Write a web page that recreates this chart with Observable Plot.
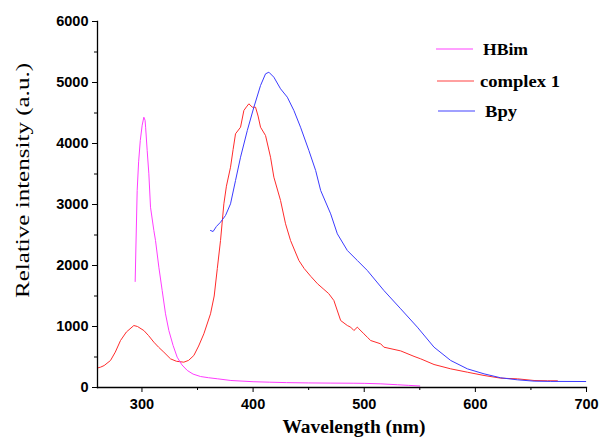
<!DOCTYPE html>
<html>
<head>
<meta charset="utf-8">
<script src="https://cdn.jsdelivr.net/npm/d3@7"></script>
<script src="https://cdn.jsdelivr.net/npm/@observablehq/plot@0.6"></script>
<style>
  body { margin: 0; background: #fff; }
  #wrap { position: relative; width: 603px; height: 443px; }
  #legend { position: absolute; left: 0; top: 0; pointer-events: none; }
</style>
</head>
<body>
<div id="wrap"></div>
<script>
// HBim
const hbimNm = [293.9, 294.8, 295.7, 297, 298.5, 300.2, 301.7, 302.8, 303.3, 304.7, 306.2, 307.7, 310.7, 312.2, 315.2, 318.2, 321.2, 324.2, 328, 331.7, 336, 340.8, 346, 352.7, 360, 367.8, 380, 400, 415, 430, 450, 470, 490, 500, 515, 530, 540, 550];
const hbimVal = [1738, 2500, 3230, 3700, 4050, 4300, 4431, 4380, 4267, 3885, 3503, 2956, 2574, 2410, 1972, 1590, 1208, 934, 690, 497, 370, 279, 220, 180, 160, 143, 115, 95, 87, 80, 75, 72, 70, 68, 60, 45, 35, 25];
// complex 1
const cplxNm = [260, 262.7, 266, 271.7, 276, 280.7, 286, 292.7, 296, 301.7, 306, 310.7, 315, 319.7, 325.7, 331, 337.7, 342, 346.7, 351, 355.7, 361.7, 365, 367.8, 370.7, 373.7, 376, 379.7, 382, 384.2, 388.7, 391.7, 394, 396.2, 399.3, 402.2, 404.5, 406.7, 411.2, 415.7, 418.7, 424.7, 429.2, 433.7, 441.2, 446, 452, 458, 463, 468, 472.7, 478.8, 484.8, 487.8, 490.7, 493.8, 495.2, 499.7, 502.8, 505.8, 514.8, 517.7, 532.8, 544.8, 550.8, 562.8, 577.8, 592.8, 607.8, 622.8, 637.8, 652.8, 665, 673.8];
const cplxVal = [320, 333, 360, 443, 580, 770, 910, 1016, 1000, 934, 850, 743, 660, 579, 470, 430, 415, 445, 525, 680, 880, 1208, 1500, 1950, 2410, 3011, 3300, 3611, 3900, 4159, 4267, 4541, 4600, 4651, 4595, 4595, 4450, 4267, 4131, 3775, 3448, 3066, 2684, 2410, 2082, 1950, 1820, 1700, 1620, 1540, 1426, 1098, 1016, 989, 934, 989, 962, 880, 824, 770, 716, 661, 600, 510, 470, 377, 306, 251, 197, 153, 142, 115, 110, 110];
// Bpy
const bpyNm = [361.7, 364, 367, 370.7, 375.2, 379.7, 384.2, 388.7, 394.8, 400.7, 406.7, 411.2, 414.2, 418.7, 424.7, 430.8, 436.7, 442.7, 450.2, 456.3, 460.8, 469.8, 475.8, 484.8, 493.8, 502.8, 517.7, 532.8, 547.8, 562.8, 577.8, 592.8, 607.8, 622.8, 637.8, 652.8, 667.8, 699.3];
const bpyVal = [2574, 2557, 2640, 2710, 2820, 3011, 3393, 3775, 4213, 4595, 4951, 5142, 5169, 5087, 4897, 4759, 4541, 4267, 3885, 3557, 3230, 2847, 2519, 2246, 2082, 1918, 1590, 1290, 989, 661, 443, 306, 224, 159, 126, 104, 100, 98];

const seriesNames = ["HBim", "complex 1", "Bpy"];
const seriesColors = ["#ff3cff", "#ff2b2b", "#3b3bff"];
const legendColors = ["#ff80ff", "#ff8080", "#8080ff"];

const xMajor = [300, 400, 500, 600, 700];
const xMinor = [350, 450, 550, 650];
const yMajor = [0, 1000, 2000, 3000, 4000, 5000, 6000];
const yMinor = [500, 1500, 2500, 3500, 4500, 5500];

const xLabel = "Wavelength (nm)";
const yLabel = "Relative intensity (a.u.)";

const toRows = (nm, val, s) => nm.map((x, i) => ({x, y: val[i], s}));
const hbim = toRows(hbimNm, hbimVal, seriesNames[0]);
const cplx = toRows(cplxNm, cplxVal, seriesNames[1]);
const bpy = toRows(bpyNm, bpyVal, seriesNames[2]);

const serif = "'Liberation Serif', 'Times New Roman', serif";

const chart = Plot.plot({
  width: 603,
  height: 443,
  marginLeft: 97,
  marginRight: 17,
  marginTop: 21,
  marginBottom: 56,
  x: {domain: [260, 700]},
  y: {domain: [0, 6000]},
  style: {fontFamily: "'Liberation Sans', Arial, sans-serif", fontSize: "14.5px", fontWeight: "bold", color: "#000", background: "#fff"},
  marks: [
    Plot.line(cplx, {x: "x", y: "y", stroke: seriesColors[1], strokeWidth: 1}),
    Plot.line(bpy, {x: "x", y: "y", stroke: seriesColors[2], strokeWidth: 1}),
    Plot.line(hbim, {x: "x", y: "y", stroke: seriesColors[0], strokeWidth: 1}),
    Plot.frame({anchor: "left", stroke: "#000", strokeWidth: 1.3}),
    Plot.frame({anchor: "bottom", stroke: "#000", strokeWidth: 1.3}),
    Plot.axisX(xMajor, {tickSize: 5, tickPadding: 6, label: null, tickFormat: d => String(d)}),
    Plot.axisX(xMinor, {tickSize: 3, tickFormat: () => "", label: null}),
    Plot.axisY(yMajor, {tickSize: 5, tickPadding: 4, label: null, tickFormat: d => String(d)}),
    Plot.axisY(yMinor, {tickSize: 3, tickFormat: () => "", label: null}),
    Plot.text([xLabel], {frameAnchor: "bottom", textAnchor: "middle", dx: 12, dy: 45, fontFamily: serif, fontSize: 18, fontWeight: "bold", fill: "#000", className: "xlab"}),
    Plot.text([yLabel], {frameAnchor: "left", textAnchor: "middle", dx: -75, dy: -24, rotate: -90, fontFamily: serif, fontSize: 19, fontWeight: "normal", fill: "#000", className: "ylab"})
  ]
});

const wrap = document.getElementById("wrap");
wrap.appendChild(chart);

// stretch axis titles to the reference's extent
const stretch = (sel, len) => {
  chart.querySelectorAll(sel + " text").forEach(t => {
    t.setAttribute("textLength", len);
    t.setAttribute("lengthAdjust", "spacingAndGlyphs");
  });
};
stretch(".xlab", 143);
stretch(".ylab", 235);

// legend overlay
const ns = "http://www.w3.org/2000/svg";
const lg = document.createElementNS(ns, "svg");
lg.setAttribute("id", "legend");
lg.setAttribute("width", 603);
lg.setAttribute("height", 443);
const legendPos = [[436, 49, 483, 45], [437, 81, 480, 80], [438, 111, 485, 32]];
seriesNames.forEach((name, i) => {
  const [lx, ly, tx, tw] = legendPos[i];
  const ln = document.createElementNS(ns, "line");
  ln.setAttribute("x1", lx); ln.setAttribute("x2", lx + 37);
  ln.setAttribute("y1", ly); ln.setAttribute("y2", ly);
  ln.setAttribute("stroke", legendColors[i]);
  ln.setAttribute("stroke-width", 1.3);
  lg.appendChild(ln);
  const tx_ = document.createElementNS(ns, "text");
  tx_.setAttribute("x", tx);
  tx_.setAttribute("y", ly + 5.5);
  tx_.setAttribute("font-family", serif);
  tx_.setAttribute("font-weight", "bold");
  tx_.setAttribute("font-size", 16);
  tx_.setAttribute("fill", "#000");
  tx_.setAttribute("textLength", tw);
  tx_.setAttribute("lengthAdjust", "spacingAndGlyphs");
  tx_.textContent = name;
  lg.appendChild(tx_);
});
wrap.appendChild(lg);
</script>
</body>
</html>
